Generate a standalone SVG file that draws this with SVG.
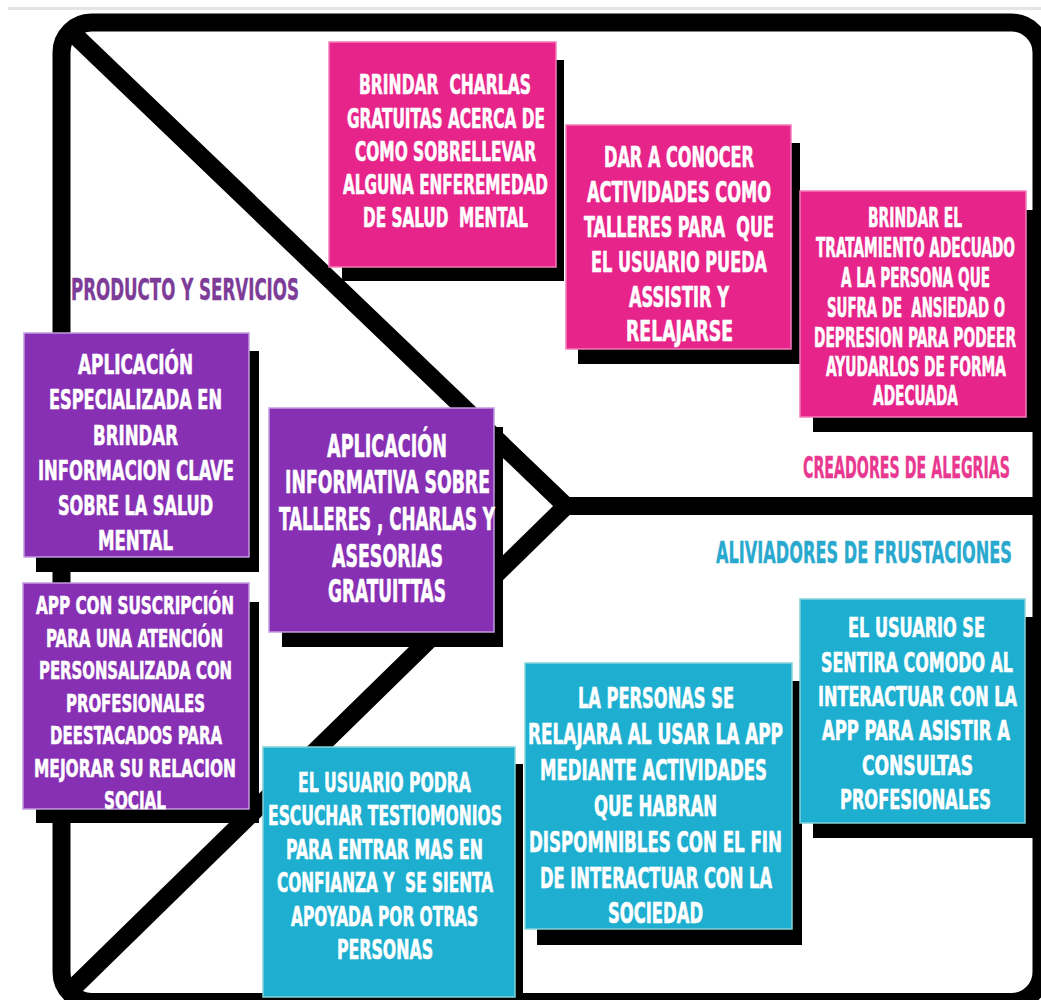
<svg xmlns="http://www.w3.org/2000/svg" width="1041" height="1000" viewBox="0 0 1041 1000">
  <style>
    text { font-family: "Liberation Sans Narrow", "DejaVu Sans Condensed", "Liberation Sans", sans-serif; font-weight: bold; white-space: pre; }
    .t { fill: #ffffff; stroke: #ffffff; stroke-width: 0.6; text-anchor: middle; }
    .shadow { fill: #000000; }
    .pink { fill: #e6248a; stroke: #f27cbb; stroke-width: 1.5; }
    .purple { fill: #8730b4; stroke: #c39be0; stroke-width: 1.5; }
    .teal { fill: #1eafd0; stroke: #84d2d8; stroke-width: 1.5; }
    .frame { fill: none; stroke: #000000; stroke-width: 18; }
    .bar { fill: none; stroke: #000000; stroke-width: 18; stroke-linejoin: miter; stroke-miterlimit: 10; }
    .label { text-anchor: start; stroke-width: 0.4; }
  </style>

  <rect width="1041" height="1000" fill="#ffffff"/>
  <!-- thin grey rule along the top -->
  <line x1="8" y1="8.5" x2="1041" y2="8.5" stroke="#e4e4e4" stroke-width="3"/>

  <!-- canvas outline and dividing lines -->
  <g id="lines">
    <rect class="frame" x="61.5" y="22.5" width="980" height="979.5" rx="30"/>
    <path class="bar" d="M70.5,31 L566,506 L70,991"/>
    <path class="bar" d="M566,506 L1041,506" stroke-width="17"/>
  </g>

  <!-- section titles -->
  <g id="titles">
    <text class="label" x="71" y="300" font-size="31" fill="#7d3c98" stroke="#7d3c98" textLength="228" lengthAdjust="spacingAndGlyphs">PRODUCTO Y SERVICIOS</text>
    <text class="label" x="803" y="478" font-size="30" fill="#e8388f" stroke="#e8388f" textLength="207" lengthAdjust="spacingAndGlyphs">CREADORES DE ALEGRIAS</text>
    <text class="label" x="716" y="563" font-size="29.5" fill="#2aa9cf" stroke="#2aa9cf" textLength="296" lengthAdjust="spacingAndGlyphs">ALIVIADORES DE FRUSTACIONES</text>
  </g>

  <!-- gain creators -->
  <g id="gain-charlas">
    <rect class="shadow" x="342" y="60" width="222" height="221"/>
    <rect class="pink" x="329" y="42" width="227" height="225"/>
    <g font-size="26.5">
      <text class="t" x="445" y="94" textLength="172" lengthAdjust="spacingAndGlyphs">BRINDAR  CHARLAS</text>
      <text class="t" x="446" y="127.5" textLength="198" lengthAdjust="spacingAndGlyphs">GRATUITAS ACERCA DE</text>
      <text class="t" x="445.5" y="161" textLength="181" lengthAdjust="spacingAndGlyphs">COMO SOBRELLEVAR</text>
      <text class="t" x="445.5" y="194" textLength="205" lengthAdjust="spacingAndGlyphs">ALGUNA ENFEREMEDAD</text>
      <text class="t" x="445.5" y="227" textLength="165" lengthAdjust="spacingAndGlyphs">DE SALUD  MENTAL</text>
    </g>
  </g>

  <g id="gain-actividades">
    <rect class="shadow" x="578" y="143" width="222" height="221"/>
    <rect class="pink" x="566" y="125" width="225" height="224"/>
    <g font-size="28">
      <text class="t" x="679" y="167" textLength="150" lengthAdjust="spacingAndGlyphs">DAR A CONOCER</text>
      <text class="t" x="679" y="202" textLength="184" lengthAdjust="spacingAndGlyphs">ACTIVIDADES COMO</text>
      <text class="t" x="679" y="237" textLength="190" lengthAdjust="spacingAndGlyphs">TALLERES PARA  QUE</text>
      <text class="t" x="679" y="272" textLength="176" lengthAdjust="spacingAndGlyphs">EL USUARIO PUEDA</text>
      <text class="t" x="679" y="306.5" textLength="100" lengthAdjust="spacingAndGlyphs">ASSISTIR Y</text>
      <text class="t" x="679.5" y="341" textLength="107" lengthAdjust="spacingAndGlyphs">RELAJARSE</text>
    </g>
  </g>

  <g id="gain-tratamiento">
    <rect class="shadow" x="813" y="210" width="221" height="222"/>
    <rect class="pink" x="800" y="191" width="226" height="226"/>
    <g font-size="26">
      <text class="t" x="915" y="227" textLength="94" lengthAdjust="spacingAndGlyphs">BRINDAR EL</text>
      <text class="t" x="915.5" y="257" textLength="199" lengthAdjust="spacingAndGlyphs">TRATAMIENTO ADECUADO</text>
      <text class="t" x="915.5" y="286.5" textLength="149" lengthAdjust="spacingAndGlyphs">A LA PERSONA QUE</text>
      <text class="t" x="916" y="316.5" textLength="178" lengthAdjust="spacingAndGlyphs">SUFRA DE  ANSIEDAD O</text>
      <text class="t" x="915" y="346.5" textLength="202" lengthAdjust="spacingAndGlyphs">DEPRESION PARA PODEER</text>
      <text class="t" x="916" y="375.5" textLength="180" lengthAdjust="spacingAndGlyphs">AYUDARLOS DE FORMA</text>
      <text class="t" x="915.5" y="404.5" textLength="85" lengthAdjust="spacingAndGlyphs">ADECUADA</text>
    </g>
  </g>

  <!-- products and services -->
  <g id="product-especializada">
    <rect class="shadow" x="36" y="351" width="223" height="221"/>
    <rect class="purple" x="24" y="333" width="225" height="224"/>
    <g font-size="27">
      <text class="t" x="135.5" y="374" textLength="115" lengthAdjust="spacingAndGlyphs">APLICACIÓN</text>
      <text class="t" x="135.5" y="409" textLength="173" lengthAdjust="spacingAndGlyphs">ESPECIALIZADA EN</text>
      <text class="t" x="135.5" y="444.5" textLength="85" lengthAdjust="spacingAndGlyphs">BRINDAR</text>
      <text class="t" x="136" y="479.5" textLength="196" lengthAdjust="spacingAndGlyphs">INFORMACION CLAVE</text>
      <text class="t" x="135.5" y="514.5" textLength="155" lengthAdjust="spacingAndGlyphs">SOBRE LA SALUD</text>
      <text class="t" x="135.5" y="550" textLength="75" lengthAdjust="spacingAndGlyphs">MENTAL</text>
    </g>
  </g>

  <g id="product-informativa">
    <rect class="shadow" x="282" y="427" width="221" height="220"/>
    <rect class="purple" x="269" y="408" width="225" height="224"/>
    <g font-size="32">
      <text class="t" x="387" y="457" textLength="120" lengthAdjust="spacingAndGlyphs">APLICACIÓN</text>
      <text class="t" x="387.5" y="493" textLength="205" lengthAdjust="spacingAndGlyphs">INFORMATIVA SOBRE</text>
      <text class="t" x="387" y="530" textLength="216" lengthAdjust="spacingAndGlyphs">TALLERES , CHARLAS Y</text>
      <text class="t" x="387.5" y="566.5" textLength="111" lengthAdjust="spacingAndGlyphs">ASESORIAS</text>
      <text class="t" x="387" y="602" textLength="118" lengthAdjust="spacingAndGlyphs">GRATUITTAS</text>
    </g>
  </g>

  <g id="product-suscripcion">
    <rect class="shadow" x="36" y="602" width="223" height="221"/>
    <rect class="purple" x="23" y="583" width="226" height="226"/>
    <g font-size="25">
      <text class="t" x="135" y="614" textLength="198" lengthAdjust="spacingAndGlyphs">APP CON SUSCRIPCIÓN</text>
      <text class="t" x="134.5" y="646.5" textLength="177" lengthAdjust="spacingAndGlyphs">PARA UNA ATENCIÓN</text>
      <text class="t" x="135.5" y="679" textLength="193" lengthAdjust="spacingAndGlyphs">PERSONSALIZADA CON</text>
      <text class="t" x="135.5" y="711.5" textLength="139" lengthAdjust="spacingAndGlyphs">PROFESIONALES</text>
      <text class="t" x="136" y="744" textLength="172" lengthAdjust="spacingAndGlyphs">DEESTACADOS PARA</text>
      <text class="t" x="135" y="776.5" textLength="202" lengthAdjust="spacingAndGlyphs">MEJORAR SU RELACION</text>
      <text class="t" x="135" y="809" textLength="62" lengthAdjust="spacingAndGlyphs">SOCIAL</text>
    </g>
  </g>

  <!-- pain relievers -->
  <g id="pain-testimonios">
    <rect class="shadow" x="276" y="764" width="247" height="240"/>
    <rect class="teal" x="263" y="747" width="252" height="250"/>
    <g font-size="27">
      <text class="t" x="384.5" y="792" textLength="173" lengthAdjust="spacingAndGlyphs">EL USUARIO PODRA</text>
      <text class="t" x="385" y="825" textLength="234" lengthAdjust="spacingAndGlyphs">ESCUCHAR TESTIOMONIOS</text>
      <text class="t" x="384.5" y="858.5" textLength="197" lengthAdjust="spacingAndGlyphs">PARA ENTRAR MAS EN</text>
      <text class="t" x="385" y="892" textLength="216" lengthAdjust="spacingAndGlyphs">CONFIANZA Y  SE SIENTA</text>
      <text class="t" x="384.5" y="925.5" textLength="187" lengthAdjust="spacingAndGlyphs">APOYADA POR OTRAS</text>
      <text class="t" x="385" y="958.5" textLength="96" lengthAdjust="spacingAndGlyphs">PERSONAS</text>
    </g>
  </g>

  <g id="pain-relajar">
    <rect class="shadow" x="537" y="681" width="265" height="264"/>
    <rect class="teal" x="525" y="663" width="267" height="266"/>
    <g font-size="28.5">
      <text class="t" x="656" y="708" textLength="156" lengthAdjust="spacingAndGlyphs">LA PERSONAS SE</text>
      <text class="t" x="655.5" y="744" textLength="255" lengthAdjust="spacingAndGlyphs">RELAJARA AL USAR LA APP</text>
      <text class="t" x="653.5" y="780" textLength="227" lengthAdjust="spacingAndGlyphs">MEDIANTE ACTIVIDADES</text>
      <text class="t" x="655.5" y="816" textLength="123" lengthAdjust="spacingAndGlyphs">QUE HABRAN</text>
      <text class="t" x="655.5" y="852" textLength="253" lengthAdjust="spacingAndGlyphs">DISPOMNIBLES CON EL FIN</text>
      <text class="t" x="656" y="888" textLength="232" lengthAdjust="spacingAndGlyphs">DE INTERACTUAR CON LA</text>
      <text class="t" x="655.5" y="923" textLength="95" lengthAdjust="spacingAndGlyphs">SOCIEDAD</text>
    </g>
  </g>

  <g id="pain-consultas">
    <rect class="shadow" x="813" y="617" width="221" height="221"/>
    <rect class="teal" x="800" y="599" width="225" height="224"/>
    <g font-size="26.5">
      <text class="t" x="916.5" y="637" textLength="137" lengthAdjust="spacingAndGlyphs">EL USUARIO SE</text>
      <text class="t" x="917" y="671.5" textLength="192" lengthAdjust="spacingAndGlyphs">SENTIRA COMODO AL</text>
      <text class="t" x="917.5" y="705.5" textLength="199" lengthAdjust="spacingAndGlyphs">INTERACTUAR CON LA</text>
      <text class="t" x="916" y="740" textLength="188" lengthAdjust="spacingAndGlyphs">APP PARA ASISTIR A</text>
      <text class="t" x="917.5" y="774.5" textLength="111" lengthAdjust="spacingAndGlyphs">CONSULTAS</text>
      <text class="t" x="915.5" y="809" textLength="151" lengthAdjust="spacingAndGlyphs">PROFESIONALES</text>
    </g>
  </g>
</svg>
